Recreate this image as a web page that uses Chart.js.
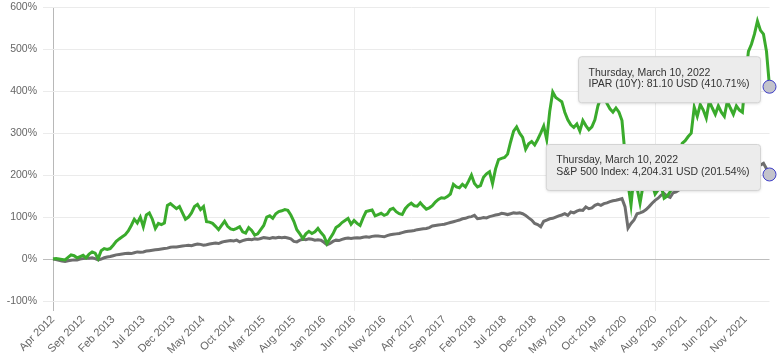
<!DOCTYPE html>
<html>
<head>
<meta charset="utf-8">
<script src="https://cdn.jsdelivr.net/npm/chart.js@4"></script>
<style>
  html, body { margin: 0; padding: 0; background: #fff; overflow: hidden; }
  #wrap { width: 777px; height: 364px; margin-top: -5px; }
</style>
</head>
<body>
<div id="wrap"><canvas id="perfChart"></canvas></div>
<script>
// series names and last close prices shown in the tooltips
var seriesNames = ['IPAR (10Y)', 'S&P 500 Index'];
var lastPrices = [81.10, 4204.31];
var lastDate = '2022-03-10';

// y axis ticks (percent)
var yTicks = [-100, 0, 100, 200, 300, 400, 500, 600];

// cumulative return in %, two readings per month from Apr 2012, last one is Mar 10 2022
var iparReturn = [
  0, 1, 0, -1, -2, 4, 10, 8, 3, 6,
  9, 3, 12, 17, 14, 1, 20, 25, 23, 25,
  33, 42, 48, 53, 58, 67, 80, 95, 86, 100,
  77, 105, 110, 95, 73, 85, 82, 86, 128, 132,
  126, 120, 125, 110, 95, 100, 110, 125, 130, 118,
  125, 89, 88, 85, 78, 70, 80, 90, 78, 72,
  70, 73, 77, 65, 62, 75, 68, 57, 60, 70,
  80, 100, 103, 97, 108, 113, 115, 118, 116, 105,
  90, 70, 60, 49, 60, 66, 61, 65, 73, 63,
  55, 37, 49, 60, 75, 80, 87, 92, 97, 83,
  92, 85, 80, 98, 113, 115, 117, 103, 106, 109,
  104, 107, 118, 121, 113, 108, 106, 120, 128, 133,
  127, 126, 134, 126, 119, 122, 127, 136, 142, 146,
  145, 149, 155, 178, 172, 170, 178, 172, 185, 200,
  180, 172, 175, 195, 203, 208, 180, 215, 237, 240,
  242, 250, 279, 305, 315, 300, 290, 262, 275, 280,
  272, 285, 300, 317, 285, 352, 398, 385, 380, 375,
  350, 332, 320, 314, 322, 305, 330, 318, 308, 315,
  332, 365, 385, 390, 371, 358, 350, 360, 350, 330,
  250, 180, 129, 200, 170, 133, 175, 185, 190, 180,
  155, 165, 175, 145, 150, 160, 180, 215, 245, 276,
  282, 292, 300, 362, 340, 368, 355, 336, 376, 360,
  345, 365, 350, 340, 376, 360, 345, 365, 355, 350,
  430, 495, 512, 536, 567, 545, 536, 495, 410.71
];

var spxReturn = [
  0, -1, -3, -5, -6, -4, -3, -2, -2, 0,
  1, 2, 2, 3, 1, -2, 0, 3, 5, 6,
  8, 10, 11, 12, 13, 14, 13, 15, 17, 16,
  17, 19, 20, 21, 22, 23, 24, 25, 26, 28,
  29, 29, 30, 31, 32, 33, 32, 34, 36, 35,
  33, 34, 36, 37, 38, 37, 40, 42, 43, 44,
  43, 45, 41, 44, 46, 47, 46, 48, 47, 49,
  51, 50, 49, 51, 50, 52, 51, 52, 50, 48,
  42, 41, 45, 47, 46, 48, 47, 45, 46, 45,
  40, 34, 37, 42, 45, 44, 47, 49, 50, 49,
  50, 51, 50, 52, 53, 52, 54, 55, 55, 54,
  53, 56, 58, 59, 60, 61, 63, 65, 66, 67,
  68, 70, 71, 72, 73, 75, 79, 80, 81, 82,
  83, 85, 87, 89, 91, 93, 96, 97, 100, 101,
  104, 96, 97, 99, 98, 101, 103, 105, 106, 109,
  108, 106, 108, 110, 109, 110, 108, 104, 98, 93,
  85, 82, 77, 90, 93, 96, 97, 100, 103, 105,
  108, 104, 112, 110, 114, 117, 116, 124, 120, 122,
  128, 131, 128, 132, 134, 137, 139, 140, 142, 144,
  125, 74, 85, 93, 108, 110, 113, 118, 125, 133,
  140, 145, 152, 156, 150, 147, 158, 160, 165, 169,
  168, 172, 175, 176, 180, 184, 188, 190, 193, 196,
  197, 199, 204, 198, 207, 212, 210, 213, 220, 215,
  223, 218, 225, 230, 228, 224, 228, 215, 201.54
];

// dates: 1st and 16th of every month Apr 2012 .. Feb 2022, then the last day
var labels = [];
for (var m = 0; m < 119; m++) {
  var y = 2012 + Math.floor((m + 3) / 12);
  var mo = (m + 3) % 12 + 1;
  var mm = (mo < 10 ? '0' : '') + mo;
  labels.push(y + '-' + mm + '-01');
  labels.push(y + '-' + mm + '-16');
}
labels.push(lastDate);

var monthNames = ['Jan', 'Feb', 'Mar', 'Apr', 'May', 'Jun', 'Jul', 'Aug', 'Sep', 'Oct', 'Nov', 'Dec'];
function parseDate(s) {
  var p = s.split('-');
  return new Date(+p[0], +p[1] - 1, +p[2]);
}

var lastIndex = labels.length - 1;
var fontFamily = '"Liberation Sans", Arial, sans-serif';

// draws the two fixed hover boxes next to the last points
var hoverBoxes = {
  id: 'hoverBoxes',
  afterDraw: function (chart) {
    var c = chart.ctx;
    var title = parseDate(lastDate).toLocaleDateString('en-US', {
      weekday: 'long', year: 'numeric', month: 'long', day: 'numeric'
    });
    chart.data.datasets.forEach(function (ds, i) {
      var pt = chart.getDatasetMeta(i).data[lastIndex];
      var pct = ds.data[lastIndex];
      var line2 = seriesNames[i] + ': ' +
        lastPrices[i].toLocaleString('en-US', { minimumFractionDigits: 2, maximumFractionDigits: 2 }) +
        ' USD (' + pct.toFixed(2) + '%)';
      c.save();
      c.font = '10.5px ' + fontFamily;
      var w = Math.max(c.measureText(title).width, c.measureText(line2).width) + 21;
      var h = 46;
      var right = pt.x - 9;
      var top = pt.y - 30;
      var left = right - w;
      c.shadowColor = 'rgba(0,0,0,0.15)';
      c.shadowBlur = 3;
      c.shadowOffsetY = 1;
      c.beginPath();
      c.roundRect(left, top, w, h, 3);
      c.fillStyle = '#ececec';
      c.fill();
      c.shadowColor = 'transparent';
      c.strokeStyle = '#d4d4d4';
      c.lineWidth = 1;
      c.stroke();
      c.fillStyle = '#333';
      c.textBaseline = 'middle';
      c.fillText(title, left + 10, top + 16);
      c.fillText(line2, left + 10, top + 27.5);
      c.restore();
    });
  }
};

function lastPointOnly(r) {
  return function (ctx) { return ctx.dataIndex === lastIndex ? r : 0; };
}

new Chart(document.getElementById('perfChart').getContext('2d'), {
  type: 'line',
  data: {
    labels: labels,
    datasets: [{
      label: seriesNames[0],
      data: iparReturn,
      borderColor: '#3aab2c',
      borderWidth: 3,
      tension: 0,
      clip: false,
      pointRadius: lastPointOnly(6.5),
      pointBackgroundColor: '#c3c3cb',
      pointBorderColor: '#3d3dc6',
      pointBorderWidth: 1
    }, {
      label: seriesNames[1],
      data: spxReturn,
      borderColor: '#6e6e6e',
      borderWidth: 3,
      tension: 0,
      clip: false,
      pointRadius: lastPointOnly(6.5),
      pointBackgroundColor: '#c3c3cb',
      pointBorderColor: '#3d3dc6',
      pointBorderWidth: 1
    }]
  },
  options: {
    responsive: true,
    maintainAspectRatio: false,
    animation: false,
    events: [],
    layout: { padding: { top: 1, right: 6, left: 6, bottom: 0 } },
    plugins: {
      legend: { display: false },
      tooltip: { enabled: false }
    },
    scales: {
      x: {
        ticks: {
          autoSkip: false,
          maxRotation: 45,
          minRotation: 45,
          padding: 2,
          color: '#666',
          font: { family: fontFamily, size: 11 },
          callback: function (v, i) {
            if (i % 10 !== 0) return null;
            var d = parseDate(labels[i]);
            return monthNames[d.getMonth()] + ' ' + d.getFullYear();
          }
        },
        grid: {
          tickLength: 10,
          color: function (ctx) {
            if (ctx.index % 10 !== 0) return 'rgba(0,0,0,0)';
            return ctx.index === 0 ? '#b8b8b8' : '#ebebeb';
          }
        },
        border: { display: false },
        afterFit: function (scale) { scale.height = 58; }
      },
      y: {
        min: -100,
        max: 600,
        afterBuildTicks: function (scale) {
          scale.ticks = yTicks.map(function (v) { return { value: v }; });
        },
        ticks: {
          padding: 6,
          color: '#666',
          font: { family: fontFamily, size: 10.5 },
          callback: function (v) { return v + '%'; }
        },
        grid: {
          tickLength: 10,
          color: function (ctx) {
            return ctx.tick && ctx.tick.value === 0 ? '#bdbdbd' : '#ebebeb';
          }
        },
        border: { display: false },
        afterFit: function (scale) { scale.width = 47; }
      }
    }
  },
  plugins: [hoverBoxes]
});
</script>
</body>
</html>
